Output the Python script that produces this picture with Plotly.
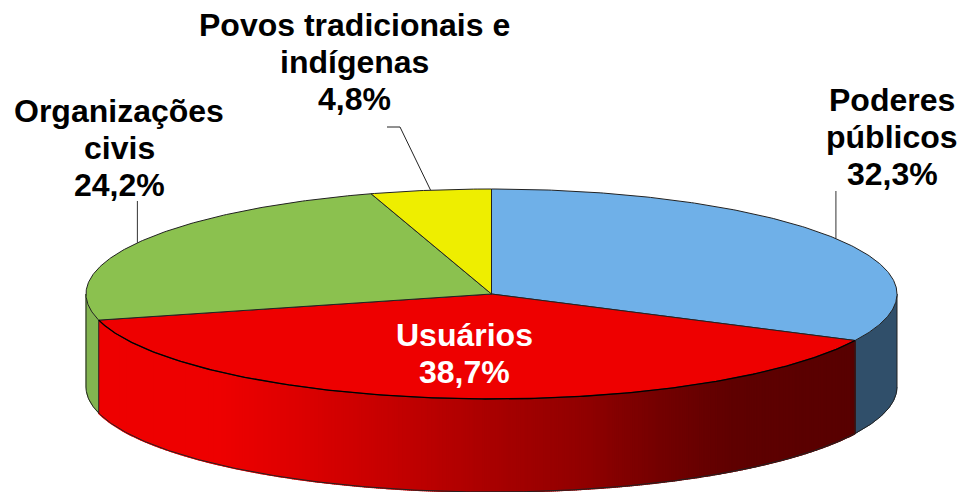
import numpy as np
import plotly.graph_objects as go

categories = ["Poderes<br>públicos", "Usuários", "Organizações<br>civis", "Povos tradicionais e<br>indígenas"]
values = [32.3, 38.7, 24.2, 4.8]
top_colors = ["#6FB0E8", "#EE0000", "#8BC14F", "#EEEE00"]
wall_colors = ["#304F6A", None, "#82B450", None]
grad_x = [99, 221, 294, 391, 488, 585, 657, 730, 856]
grad_r = [238, 238, 222, 197, 170, 145, 117, 96, 88]

CX, CY, A, B, DEPTH = 491.5, 294, 405.5, 105, 93
LINE = "#222222"


def ex(t):
    return CX + A * np.sin(t)


def ey(t):
    return CY - B * np.cos(t)


def arc(a0, a1, step=np.radians(0.5)):
    n = max(int(abs(a1 - a0) / step), 2)
    return np.linspace(a0, a1, n + 1)


fig = go.Figure()


def poly(xs, ys, fill, line=None, w=1):
    fig.add_trace(go.Scatter(x=list(xs), y=list(ys), mode="lines", fill="toself", fillcolor=fill,
                             line=dict(color=line or fill, width=w), hoverinfo="skip", showlegend=False))


def stroke(xs, ys, w=1.0, color=LINE):
    fig.add_trace(go.Scatter(x=list(xs), y=list(ys), mode="lines", line=dict(color=color, width=w),
                             hoverinfo="skip", showlegend=False))


edges = np.radians(np.concatenate([[0], np.cumsum(values)]) * 3.6 * 100 / sum(values))

# side walls (front half of the ellipse only)
for i, v in enumerate(values):
    a0 = max(edges[i], np.pi / 2)
    a1 = min(edges[i + 1], 3 * np.pi / 2)
    if a1 <= a0:
        continue
    if wall_colors[i]:
        t = arc(a0, a1)
        poly(np.r_[ex(t), ex(t[::-1])], np.r_[ey(t), ey(t[::-1]) + DEPTH], wall_colors[i])
    else:
        t = arc(a0, a1, np.radians(0.3))
        for p, q in zip(t[:-1], t[1:]):
            r = int(np.interp((ex(p) + ex(q)) / 2, grad_x, grad_r))
            c = f"rgb({r},0,0)"
            poly([ex(p), ex(q), ex(q), ex(p), ex(p)],
                 [ey(p), ey(q), ey(q) + DEPTH, ey(p) + DEPTH, ey(p)], c, None, 1.5)

# wall outlines
t = arc(np.pi / 2, 3 * np.pi / 2)
stroke(ex(t), ey(t) + DEPTH)
for a in [np.pi / 2, 3 * np.pi / 2, edges[1], edges[2]]:
    stroke([ex(a), ex(a)], [ey(a), ey(a) + DEPTH])

# top faces
for i, v in enumerate(values):
    t = arc(edges[i], edges[i + 1])
    poly(np.r_[CX, ex(t), CX], np.r_[CY, ey(t), CY], top_colors[i], LINE, 1)

# heavier front rim of the red slice
t = arc(edges[1], edges[2])
stroke(ex(t), ey(t), 1.3, "#000000")

# leader lines, anchored at each slice's mid angle
mids = (edges[:-1] + edges[1:]) / 2
stroke([ex(mids[0]), ex(mids[0])], [ey(mids[0]), 191], 1, "#333333")
stroke([ex(mids[2]), ex(mids[2])], [ey(mids[2]), 201], 1, "#333333")
stroke([ex(mids[3]), 400, 387], [ey(mids[3]), 127, 127], 1, "#222222")

positions = [(892, 100, "#000000"), (464, 335, "#FFFFFF"), (119, 111, "#000000"), (354, 25, "#000000")]
for cat, v, (x, y, col) in zip(categories, values, positions):
    pct = f"{v:.1f}".replace(".", ",") + "%"
    for k, text in enumerate(cat.split("<br>") + [pct]):
        fig.add_annotation(x=x, y=y + 37 * k, xref="x", yref="y", text=f"<b>{text}</b>", showarrow=False,
                           font=dict(family="Liberation Sans, Arial, sans-serif", size=32, color=col),
                           align="center", xanchor="center", yanchor="middle")

fig.update_layout(width=961, height=492, margin=dict(l=0, r=0, t=0, b=0), showlegend=False,
                  paper_bgcolor="white", plot_bgcolor="white",
                  xaxis=dict(range=[0, 961], visible=False, fixedrange=True),
                  yaxis=dict(range=[492, 0], visible=False, fixedrange=True))
fig.write_html("out.html", config={"displayModeBar": False},
               post_script="document.body.style.margin='0';document.documentElement.style.overflow='hidden';")
